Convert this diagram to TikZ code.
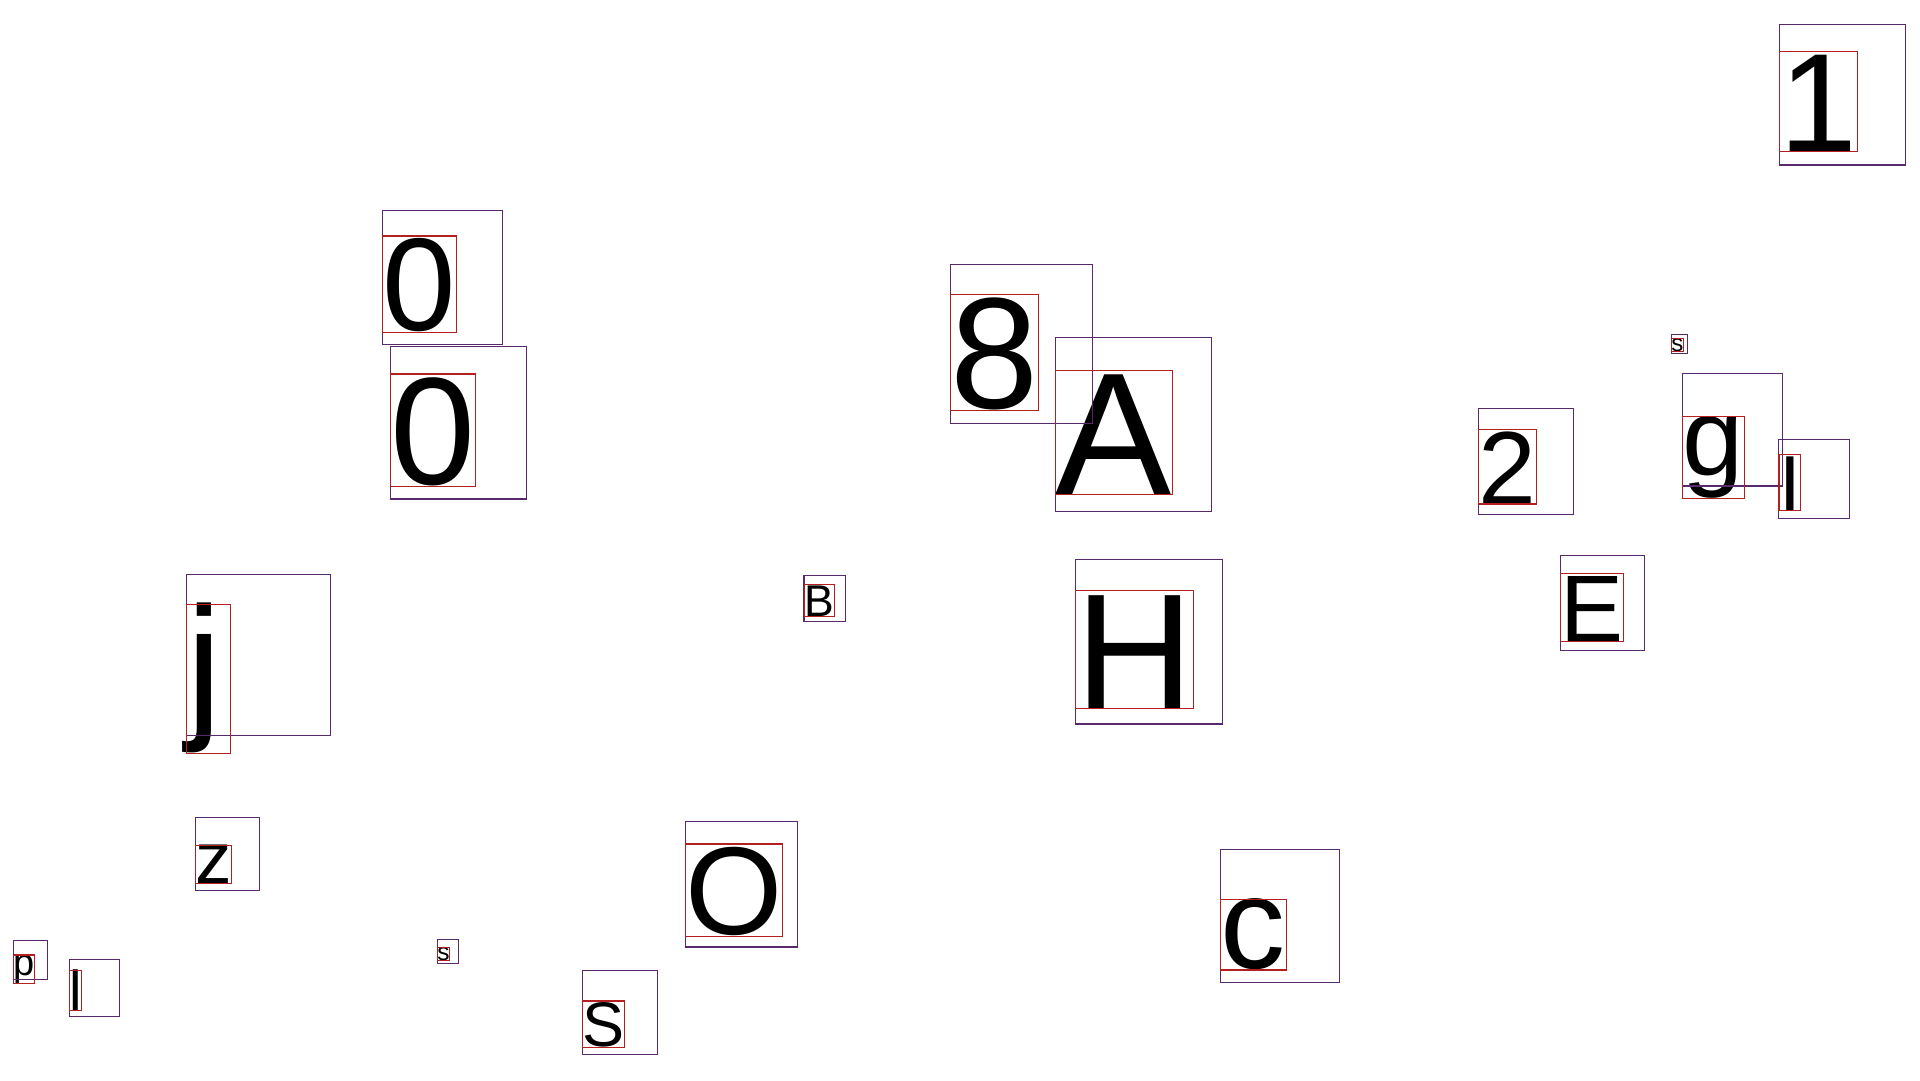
\documentclass[tikz,border=0pt]{standalone}
\usepackage{fontspec}
\setmainfont{Liberation Sans}
\definecolor{pboxc}{RGB}{88,42,108}
\definecolor{rboxc}{RGB}{180,32,32}
\tikzset{
  glyph/.style={anchor=base west, inner sep=0pt, outer sep=0pt, text=black},
  pbox/.style={draw=pboxc, line width=1.3pt},
  rbox/.style={draw=rboxc, line width=1.3pt}
}
\newcommand\fs[1]{\fontsize{#1}{#1}\selectfont}
\begin{document}
\begin{tikzpicture}[x=1pt,y=-1pt]
\useasboundingbox[fill=white] (0,0) rectangle (1920,1080);
% glyphs
\node[glyph, font=\fs{140}]   (g1)  at (1779.3,151.3) {1};
\node[glyph, font=\fs{158.5}] (g8)  at (950.7,408.5)  {8};
\node[glyph, font=\fs{174}]   (gA)  at (1055.3,494.3) {A};
\node[glyph, font=\fs{164}]   (gH)  at (1075.7,708.3) {H};
\node[glyph, font=\fs{24}]    (gs1) at (1671.3,351.4) {s};
\node[glyph, font=\fs{104}]   (g2)  at (1478.3,504)   {2};
\node[glyph, font=\fs{110}]   (gg)  at (1682.3,475.2) {g};
\node[glyph, font=\fs{78}]    (gI)  at (1779,510.3)   {I};
\node[glyph, font=\fs{94.5}]  (gE)  at (1560.7,641.3) {E};
\node[glyph, font=\fs{132}]   (g0a) at (382.3,330.7)  {0};
\node[glyph, font=\fs{153}]   (g0b) at (390.3,484.5)  {0};
\node[glyph, font=\fs{161}]   (gj)  at (186.3,719.5)  {j};
\node[glyph, font=\fs{73}]    (gz)  at (195.3,883.3)  {z};
\node[glyph, font=\fs{38}]    (gp)  at (13.3,975.3)   {p};
\node[glyph, font=\fs{56.3}]  (gl)  at (69.3,1010.7)  {l};
\node[glyph, font=\fs{24.5}]  (gs2) at (437.3,960.4)  {s};
\node[glyph, font=\fs{63}]    (gS)  at (582.3,1046.5) {S};
\node[glyph, font=\fs{125}]   (gO)  at (685.3,934.8)  {O};
\node[glyph, font=\fs{130}]   (gc)  at (1220.3,968.4) {c};
\node[glyph, font=\fs{44.5}]  (gB)  at (804.7,616.7)  {B};
% purple boxes
\draw[pbox] (1779.3,24.3) rectangle (1905.7,165);
\draw[pbox] (950.7,264.3) rectangle (1092.3,423.3);
\draw[pbox] (1055.3,337.3) rectangle (1211.7,511.3);
\draw[pbox] (1075.3,559.3) rectangle (1222.3,724);
\draw[pbox] (1671.3,334.3) rectangle (1687.3,353.3);
\draw[pbox] (1478.3,408.3) rectangle (1573.7,514.3);
\draw[pbox] (1682.3,373.3) rectangle (1782.3,486);
\draw[pbox] (1778.3,439.3) rectangle (1849.3,518.3);
\draw[pbox] (1560.3,555.3) rectangle (1644.3,650.3);
\draw[pbox] (382.3,210.3) rectangle (502.7,344.3);
\draw[pbox] (390.3,346.3) rectangle (526.7,499);
\draw[pbox] (186.3,574.3) rectangle (330.7,735.3);
\draw[pbox] (195.3,817.3) rectangle (259.3,890.3);
\draw[pbox] (13.3,940.3) rectangle (47.3,979.7);
\draw[pbox] (69.3,959.3) rectangle (119.3,1016.3);
\draw[pbox] (437.3,939.3) rectangle (458.7,963.3);
\draw[pbox] (582.3,970.3) rectangle (657.3,1054.3);
\draw[pbox] (685.3,821.3) rectangle (797.3,947);
\draw[pbox] (1220.3,849.3) rectangle (1339.3,982.3);
\draw[pbox] (804,575.3) rectangle (845.3,621.7);
% red boxes
\draw[rbox] (1779.3,51.3) rectangle (1857.3,151.3);
\draw[rbox] (950.7,294.3) rectangle (1038.7,410.3);
\draw[rbox] (1055.3,370.3) rectangle (1172.3,494.3);
\draw[rbox] (1075.7,590.3) rectangle (1193.7,708.3);
\draw[rbox] (1671.3,338.3) rectangle (1683.3,351.7);
\draw[rbox] (1478.3,429.3) rectangle (1536.7,504);
\draw[rbox] (1682.3,416.3) rectangle (1744.3,498.3);
\draw[rbox] (1779,454.3) rectangle (1800.3,510.3);
\draw[rbox] (1560.7,573.3) rectangle (1623.3,641.3);
\draw[rbox] (382.3,236) rectangle (456.7,332.3);
\draw[rbox] (390.3,374) rectangle (475.7,486.3);
\draw[rbox] (186.3,604.3) rectangle (230.3,753.3);
\draw[rbox] (195.3,845.3) rectangle (231.7,883.3);
\draw[rbox] (13.3,955) rectangle (34.7,983.3);
\draw[rbox] (69.3,970.3) rectangle (81.3,1010.7);
\draw[rbox] (437.3,947.3) rectangle (449.7,960.7);
\draw[rbox] (582.3,1001) rectangle (624.3,1047.3);
\draw[rbox] (685.3,844) rectangle (782.7,936.3);
\draw[rbox] (1220.3,899.3) rectangle (1286.7,970);
\draw[rbox] (804.7,584.7) rectangle (834.3,616.7);
\end{tikzpicture}
\end{document}
